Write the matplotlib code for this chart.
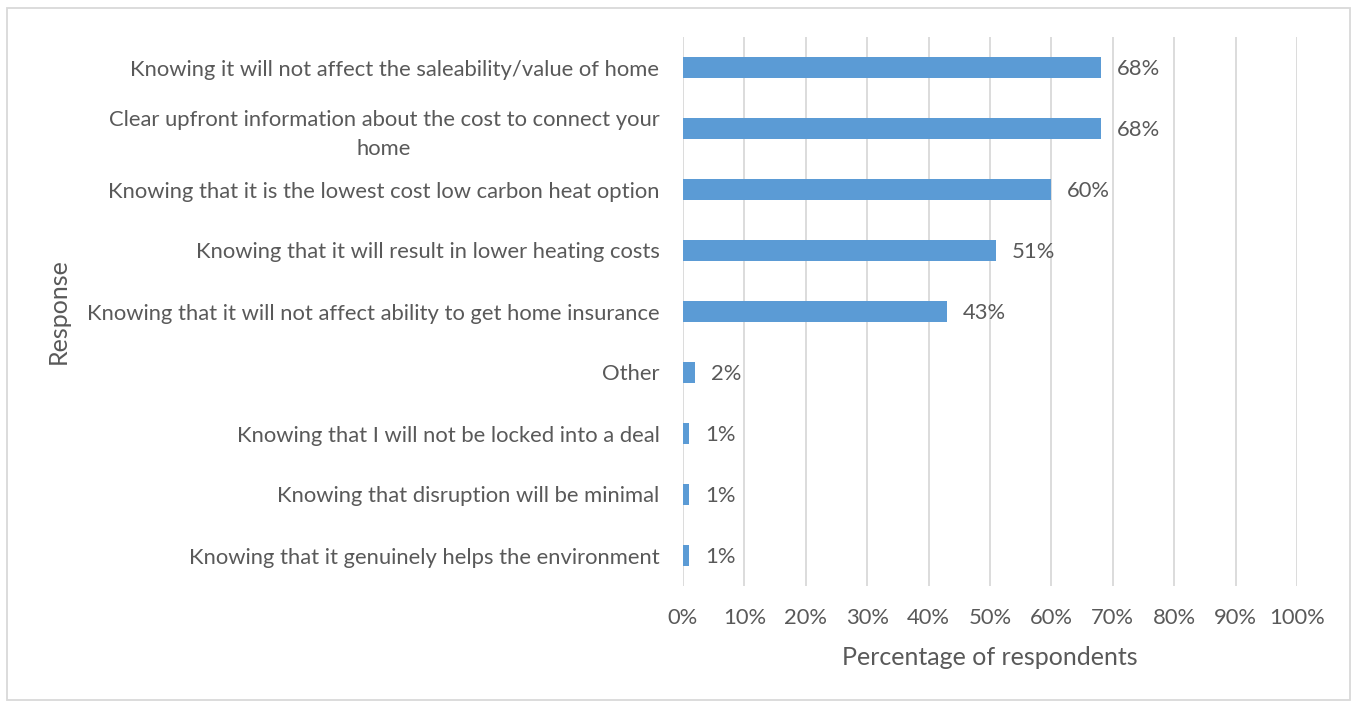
import matplotlib.pyplot as plt
from matplotlib.patches import Rectangle

responses = [
    "Knowing it will not affect the saleability/value of home",
    "Clear upfront information about the cost to connect your\nhome",
    "Knowing that it is the lowest cost low carbon heat option",
    "Knowing that it will result in lower heating costs",
    "Knowing that it will not affect ability to get home insurance",
    "Other",
    "Knowing that I will not be locked into a deal",
    "Knowing that disruption will be minimal",
    "Knowing that it genuinely helps the environment",
]
share = [68, 68, 60, 51, 43, 2, 1, 1, 1]
ticks = list(range(0, 101, 10))

plt.rcParams['font.family'] = ['Lato', 'DejaVu Sans']
grey = '#595959'
blue = '#5B9BD5'
fs = 15.8

fig = plt.figure(figsize=(13.56, 7.04), dpi=100)
ax = fig.add_axes([683/1356, 1-586/704, (1297-683)/1356, (586-37)/704])

ypos = list(range(len(responses)))
ax.barh(ypos, share, height=0.36, color=blue, zorder=3)
for y, v in zip(ypos, share):
    ax.text(v + 2.6, y + 0.02, f"{v}%", va='center', ha='left', fontsize=fs, color=grey)

ax.set_xlim(0, 100)
ax.set_ylim(len(responses) - 0.5, -0.5)
ax.set_xticks(ticks)
ax.set_xticklabels([f"{t}%" for t in ticks], fontsize=fs, color=grey)
ax.set_yticks(ypos)
ax.set_yticklabels(responses, fontsize=fs, color=grey,
                   multialignment='center', linespacing=1.55)
ax.tick_params(axis='both', length=0)
ax.tick_params(axis='x', pad=16)
ax.tick_params(axis='y', pad=17)

ax.grid(axis='x', color='#D9D9D9', linewidth=1.3, zorder=0)
for s in ax.spines.values():
    s.set_visible(False)

ax.set_xlabel("Percentage of respondents", fontsize=18, color=grey, labelpad=13)
ax.set_ylabel("Response", fontsize=18, color=grey)
ax.yaxis.set_label_coords(-(683 - 70) / 614, 0.5)

# light frame around the whole chart
fig.patches.append(Rectangle((7/1356, 1-700/704), (1350-7)/1356, (700-8)/704,
                             transform=fig.transFigure, fill=False,
                             edgecolor='#D9D9D9', linewidth=1.3))

fig.savefig('out.png', dpi=100)
